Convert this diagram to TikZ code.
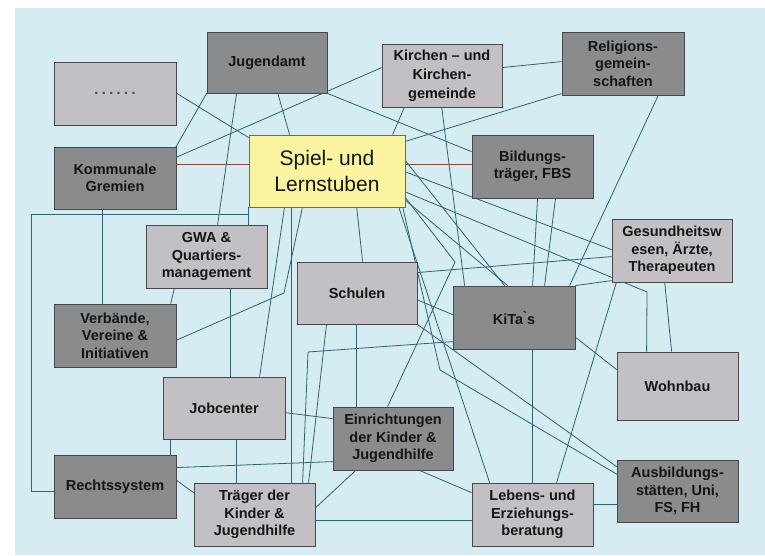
\documentclass[tikz,border=0pt]{standalone}
\usepackage{fontspec}
\setmainfont{Liberation Sans}
\usetikzlibrary{calc}
\pgfdeclarelayer{back}
\pgfdeclarelayer{lines}
\pgfsetlayers{back,lines,main}
\definecolor{bgblue}{HTML}{D5ECF2}
\definecolor{darkfill}{HTML}{8A8B8D}
\definecolor{lightfill}{HTML}{C2BFC5}
\definecolor{yellowfill}{HTML}{FAF4A0}
\definecolor{boxline}{HTML}{4A4748}
\definecolor{spielline}{HTML}{9A5A3C}
\definecolor{linecol}{HTML}{2C6470}
\definecolor{browncol}{HTML}{8A4A38}
\definecolor{txt}{HTML}{151515}
\begin{document}
\begin{tikzpicture}[x=1pt,y=-1pt,
  box/.style={draw=boxline, line width=0.8pt, inner sep=0pt, align=center,
    font=\fontsize{14.5}{17.5}\selectfont\bfseries, text=txt},
  dbox/.style={box, fill=darkfill},
  lbox/.style={box, fill=lightfill},
  conn/.style={draw=linecol, line width=0.8pt},
  brn/.style={draw=browncol, line width=0.9pt}]
\useasboundingbox (0,0) rectangle (765,555);
\begin{pgfonlayer}{back}
\fill[white] (0,0) rectangle (765,555);
\fill[bgblue] (15,8) rectangle (765,555);
\end{pgfonlayer}

% boxes
\node[lbox, minimum width=122pt, minimum height=63pt, text=boxline] (dots) at (115,93.5) {.\kern3.4pt.\kern3.4pt.\kern3.4pt.\kern3.4pt.\kern3.4pt.};
\node[dbox, minimum width=120pt, minimum height=61pt] (jug) at (267,62.5) {Jugendamt};
\node[lbox, minimum width=120pt, minimum height=63pt, font=\fontsize{14.5}{19}\selectfont\bfseries] (kir) at (442,75.5) {Kirchen – und\\Kirchen-\\gemeinde};
\node[dbox, minimum width=122pt, minimum height=63pt] (rel) at (623,63.5) {Religions-\\gemein-\\schaften};
\node[dbox, minimum width=122pt, minimum height=62pt] (kom) at (115,178) {Kommunale\\Gremien};
\node[box, fill=yellowfill, draw=spielline, minimum width=156pt, minimum height=72pt, font=\fontsize{21}{26}\selectfont] (spiel) at (327,171) {Spiel- und\\Lernstuben};
\node[dbox, minimum width=121pt, minimum height=63pt] (bil) at (532.5,166.5) {Bildungs-\\träger, FBS};
\node[lbox, minimum width=120pt, minimum height=63pt] (ges) at (672,250.5) {Gesundheitsw\\esen, Ärzte,\\Therapeuten};
\node[lbox, minimum width=121pt, minimum height=63pt] (gwa) at (206.5,256.5) {GWA \&\\Quartiers-\\management};
\node[lbox, minimum width=120pt, minimum height=62pt] (sch) at (357,293) {Schulen};
\node[dbox, minimum width=122pt, minimum height=63pt] (kita) at (514,317.5) {KiTa\`{}s};
\node[dbox, minimum width=122pt, minimum height=63pt] (ver) at (115,335.5) {Verbände,\\Vereine \&\\Initiativen};
\node[lbox, minimum width=121pt, minimum height=68pt] (wohn) at (677.5,386) {Wohnbau};
\node[lbox, minimum width=122pt, minimum height=62pt] (job) at (224,408) {Jobcenter};
\node[dbox, minimum width=120pt, minimum height=63pt] (ein) at (393,438.5) {Einrichtungen\\der Kinder \&\\Jugendhilfe};
\node[dbox, minimum width=122pt, minimum height=63pt] (rec) at (115,486.5) {Rechtssystem};
\node[lbox, minimum width=121pt, minimum height=63pt] (tra) at (254.5,514.5) {Träger der\\Kinder \&\\Jugendhilfe};
\node[lbox, minimum width=121pt, minimum height=63pt] (leb) at (532.5,514.5) {Lebens- und\\Erziehungs-\\beratung};
\node[dbox, minimum width=121pt, minimum height=62pt] (aus) at (677.5,491) {Ausbildungs-\\stätten, Uni,\\FS, FH};

% bend points
\coordinate (b1) at (647,292);
\coordinate (b2) at (455,262);
\coordinate (b3) at (440,370);
\coordinate (b4) at (284,293);
\coordinate (b5) at (308,352);
\coordinate (c1) at (31,214);

\begin{pgfonlayer}{lines}
\draw[conn] ($(dots.north west)+(122,31)$) -- ($(spiel.north west)+(0,3)$);
\draw[conn] (jug.south west) -- ($(kom.north west)+(122,1)$);
\draw[conn] ($(kir.north west)+(0,24)$) -- ($(kom.north west)+(122,11)$);
\draw[brn] ($(kom.north west)+(122,18)$) -- ($(spiel.north west)+(0,30)$);
\draw[conn] ($(jug.north west)+(30,61)$) -- ($(gwa.north west)+(72,0)$);
\draw[conn] ($(jug.north west)+(71,61)$) -- ($(spiel.north west)+(41,0)$);
\draw[conn] (jug.south east) -- ($(bil.north west)+(0,17)$);
\draw[conn] ($(kir.north west)+(23,63)$) -- ($(spiel.north west)+(144,0)$);
\draw[conn] ($(kir.north west)+(120,24)$) -- ($(rel.north west)+(0,30)$);
\draw[conn] ($(rel.north west)+(0,62)$) -- ($(spiel.north west)+(156,7)$);
\draw[conn] ($(kir.north west)+(60,63)$) -- ($(kita.north west)+(12,0)$);
\draw[brn] ($(spiel.north west)+(156,30)$) -- ($(bil.north west)+(0,30)$);
\draw[conn] ($(rel.north west)+(97,63)$) -- ($(kita.north west)+(117,0)$);
\draw[conn] ($(bil.north west)+(66,63)$) -- ($(kita.north west)+(80,0)$);
\draw[conn] ($(bil.north west)+(84,63)$) -- ($(kita.north west)+(92,0)$);
\draw[conn] ($(spiel.north west)+(156,37)$) -- ($(ges.north west)+(0,31)$);
\draw[conn] ($(spiel.north west)+(156,57)$) -- (b1) -- ($(wohn.north west)+(30,0)$);
\draw[conn] ($(sch.north west)+(120,11)$) -- ($(ges.north west)+(0,38)$);
\draw[conn] (kita.north east) -- ($(ges.north west)+(0,62)$);
\draw[conn] ($(ges.north west)+(5,63)$) -- ($(leb.north west)+(85,0)$);
\draw[conn] ($(ges.north west)+(53,63)$) -- ($(wohn.north west)+(55,0)$);
\draw[conn] ($(kita.north west)+(122,51)$) -- ($(wohn.north west)+(0,18)$);
\draw[conn] ($(spiel.north west)+(156,62)$) -- (b2) -- ($(ein.north west)+(55,0)$);
\draw[conn] ($(spiel.north west)+(156,65)$) -- ($(kita.north west)+(55,0)$);
\draw[conn] ($(spiel.north west)+(156,25)$) -- ($(kita.north west)+(52,0)$);
\draw[conn] ($(spiel.north west)+(154,72)$) -- (b3) -- ($(aus.north west)+(6,18)$);
\draw[conn] ($(spiel.north west)+(150,72)$) -- ($(leb.north west)+(18,0)$);
\draw[conn] (sch.south east) -- ($(aus.north west)+(0,7)$);
\draw[conn] ($(sch.north west)+(120,38)$) -- ($(kita.north west)+(0,29)$);
\draw[conn] ($(spiel.north west)+(108,72)$) -- ($(sch.north west)+(66,0)$);
\draw[conn] ($(spiel.north west)+(0,72)$) -- ($(gwa.north west)+(103,0)$);
\draw[conn] ($(gwa.north west)+(103,0)$) |- (c1) |- ($(rec.north west)+(0,37)$);
\draw[conn] ($(kom.north west)+(49,62)$) -- ($(ver.north west)+(49,0)$);
\draw[conn] ($(gwa.north west)+(29,63)$) -- ($(ver.north west)+(117,0)$);
\draw[conn] ($(gwa.north west)+(85,63)$) -- ($(job.north west)+(68,0)$);
\draw[conn] ($(ver.north west)+(122,37)$) -- (b4) -- ($(spiel.north west)+(54,72)$);
\draw[conn] ($(spiel.north west)+(36,72)$) -- ($(job.north west)+(97,0)$);
\draw[conn] ($(spiel.north west)+(43,72)$) -- ($(tra.north west)+(98,0)$);
\draw[conn] ($(sch.north west)+(30,62)$) -- ($(tra.north west)+(115,0)$);
\draw[conn] ($(kita.north west)+(0,56)$) -- (b5) -- ($(tra.north west)+(109,0)$);
\draw[conn] ($(job.north west)+(122,36)$) -- ($(ein.north west)+(0,12)$);
\draw[conn] ($(rec.north west)+(122,13)$) -- ($(ein.north west)+(0,55)$);
\draw[conn] ($(job.north west)+(8,62)$) -- ($(rec.north west)+(117,0)$);
\draw[conn] ($(rec.north west)+(122,25)$) -- ($(tra.north west)+(0,10)$);
\draw[conn] ($(job.north west)+(74,62)$) -- ($(tra.north west)+(43,0)$);
\draw[conn] ($(tra.north west)+(121,38)$) -- ($(leb.north west)+(0,38)$);
\draw[conn] ($(ein.north west)+(24,63)$) -- ($(tra.north west)+(121,26)$);
\draw[conn] ($(ein.north west)+(85,63)$) -- ($(leb.north west)+(0,10)$);
\draw[conn] ($(sch.north west)+(60,62)$) -- ($(ein.north west)+(24,0)$);
\draw[conn] ($(kita.north west)+(80,63)$) -- ($(leb.north west)+(61,0)$);
\draw[conn] ($(leb.north west)+(121,22)$) -- ($(aus.north west)+(0,45)$);
\end{pgfonlayer}
\end{tikzpicture}
\end{document}
